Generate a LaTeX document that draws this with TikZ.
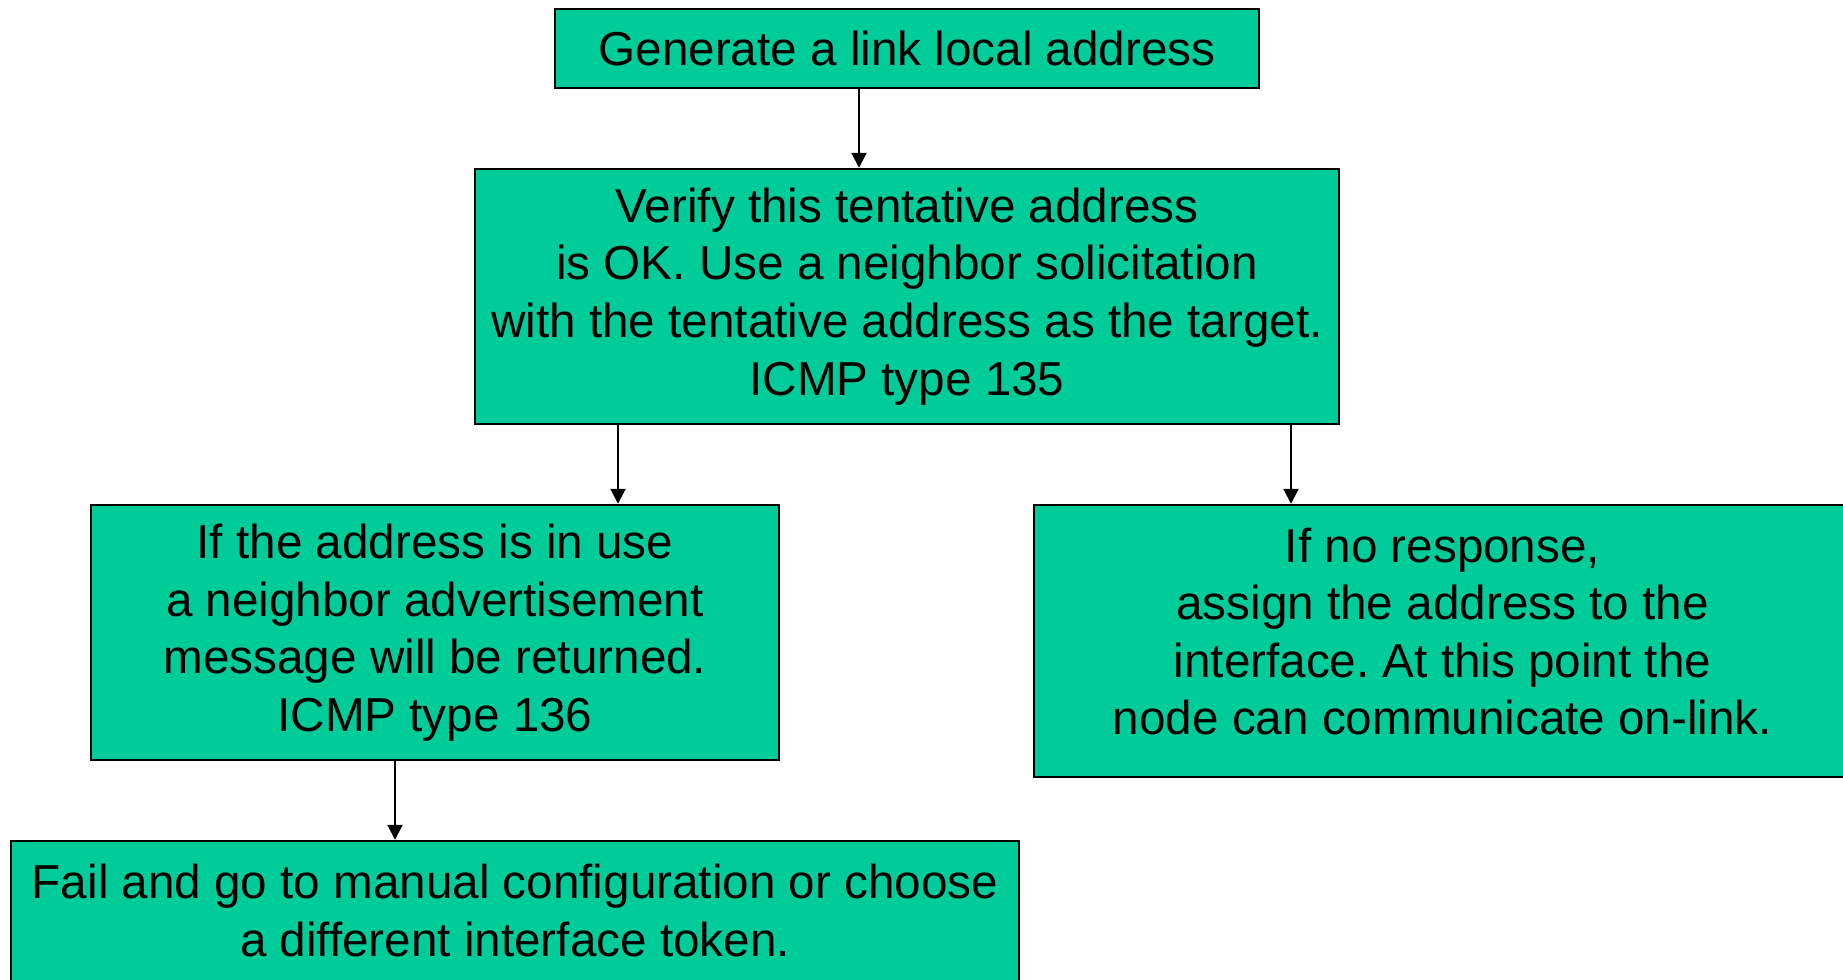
\documentclass[tikz,border=0pt]{standalone}
\usepackage{fontspec}
\setmainfont{Liberation Sans}
\frenchspacing
\usetikzlibrary{arrows.meta}
\definecolor{boxgreen}{RGB}{0,204,153}

\begin{document}
\begin{tikzpicture}[line width=1.1pt,
        every node/.style={inner sep=0pt,align=center,
          font=\fontsize{27.1}{32.8}\selectfont},
        stepbox/.style={draw,line width=1.4pt,fill=boxgreen},
        >={Triangle[width=8.5pt,length=8.5pt]}]
       \useasboundingbox (0,0) rectangle (36.86,-19.6);
       \clip (0,0) rectangle (36.86,-19.6);
       % the five steps
       \node[stepbox,minimum width=14.08cm,minimum height=1.58cm](gen) at (18.14,-0.97)
        {Generate a link local address};
       \node[stepbox,minimum width=17.28cm,minimum height=5.10cm](verify) at (18.14,-5.93)
        {Verify this tentative address\\is OK. Use a neighbor solicitation\\with the tentative address as the target.\\ICMP type 135};
       \node[stepbox,minimum width=13.76cm,minimum height=5.10cm](inuse) at (8.70,-12.65)
        {If the address is in use\\a neighbor advertisement\\message will be returned.\\ICMP type 136};
       % extra depth on the last line lifts the text a little
       \node[stepbox,minimum width=16.34cm,minimum height=5.44cm](assign) at (28.85,-12.82)
        {If no response,\\assign the address to the\\interface. At this point the\\node can communicate on-link.\rule[-0.39cm]{0pt}{0.39cm}};
       \node[stepbox,minimum width=20.16cm,minimum height=2.98cm](fail) at (10.30,-18.31)
        {Fail and go to manual configuration or choose\\a different interface token.\rule[-0.22cm]{0pt}{0.22cm}};
       % arrows
       \draw[->]([xshift=-0.96cm]gen.south)--([xshift=-0.96cm]gen.south|-verify.north);
       \draw[->]([xshift=-5.78cm]verify.south)--([xshift=-5.78cm]verify.south|-inuse.north);
       \draw[->]([xshift=7.68cm]verify.south)--([xshift=7.68cm]verify.south|-assign.north);
       \draw[->]([xshift=-0.80cm]inuse.south)--([xshift=-0.80cm]inuse.south|-fail.north);
    \end{tikzpicture}
\end{document}
